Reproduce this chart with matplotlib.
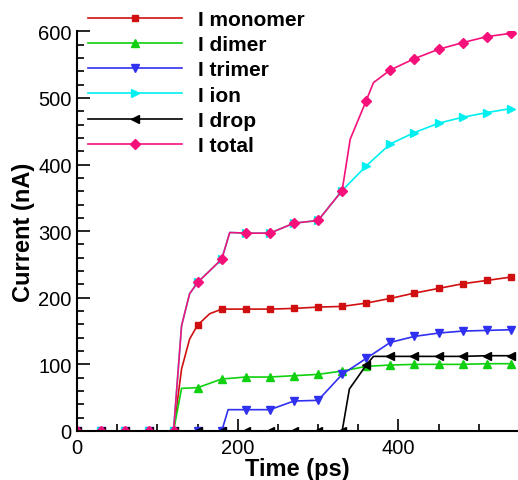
import numpy as np
import matplotlib.pyplot as plt

plt.rcParams['font.family'] = ['Liberation Sans', 'DejaVu Sans']

# marker times (ps)
t = [0, 30, 60, 90, 120, 150, 180, 210, 240, 270, 300, 330, 360, 390, 420, 450, 480, 510, 540]

monomer = [0, 0, 0, 0, 0, 159, 183, 183, 183, 184, 186, 187, 192, 199, 207, 214, 221, 226, 231]
dimer = [0, 0, 0, 0, 0, 65, 78, 81, 81, 83, 85, 90, 97, 99, 100, 100, 100, 101, 101]
trimer = [0, 0, 0, 0, 0, 0, 0, 32, 32, 45, 46, 85, 109, 133, 142, 147, 150, 151, 152]
ion = [0, 0, 0, 0, 0, 223, 258, 297, 297, 312, 316, 361, 398, 431, 448, 462, 471, 478, 484]
drop = [0, 0, 0, 0, 0, 0, 0, 0, 0, 0, 0, 0, 99, 112, 112, 112, 112, 113, 113]
total = [0, 0, 0, 0, 0, 223, 258, 297, 297, 312, 316, 361, 496, 542, 559, 573, 583, 592, 597]

# extra vertices of the lines between markers (time, value)
monomer_k = [(130, 93), (140, 138), (165, 176)]
dimer_k = [(130, 64)]
trimer_k = [(188, 32)]
ion_k = [(130, 158), (140, 206), (190, 298)]
drop_k = [(339, 63), (369, 112)]
total_k = [(130, 158), (140, 206), (190, 298), (340, 438), (369, 523)]

series = [
    ('I monomer', monomer, monomer_k, '#d01010', 's', 5),
    ('I dimer', dimer, dimer_k, '#10d010', '^', 5.5),
    ('I trimer', trimer, trimer_k, '#3030f0', 'v', 5.5),
    ('I ion', ion, ion_k, '#00f0f0', '>', 5.5),
    ('I drop', drop, drop_k, 'black', '<', 5.5),
    ('I total', total, total_k, '#f5107a', 'D', 5.5),
]

fig = plt.figure(figsize=(5.18, 4.81), dpi=100)
ax = fig.add_axes([0.149, 0.1019, 0.851, 0.8309])

for name, vals, knees, col, mk, ms in series:
    pts = sorted(list(zip(t, vals)) + knees)
    xs = [p[0] for p in pts]
    ys = [p[1] for p in pts]
    idx = [i for i, x in enumerate(xs) if x in t]
    ax.plot(xs, ys, color=col, lw=1.2, marker=mk, ms=ms, markevery=idx,
            mec=col, mfc=col, label=name)

ax.set_xlim(0, 549)
ax.set_ylim(0, 600)
ax.set_xticks([0, 200, 400])
ax.set_xticks(np.arange(0, 550, 50), minor=True)
ax.set_yticks(np.arange(0, 601, 100))
ax.set_yticks(np.arange(0, 601, 20), minor=True)
ax.tick_params(which='both', direction='in', labelsize=14.5, width=1.2)
ax.tick_params(which='major', length=9, pad=4)
ax.tick_params(which='minor', length=5)
ax.tick_params(axis='x', pad=5)
for s in ['top', 'right']:
    ax.spines[s].set_visible(False)
for s in ['left', 'bottom']:
    ax.spines[s].set_linewidth(1.5)

ax.set_xlabel('Time (ps)', fontsize=17, fontweight='bold', labelpad=0)
ax.set_ylabel('Current (nA)', fontsize=17, fontweight='bold', labelpad=2)

fig.legend(loc='upper left', bbox_to_anchor=(88 / 518, 1 - 11 / 481), frameon=False,
           prop={'size': 15, 'weight': 'bold'}, handlelength=4.5, handletextpad=0.8,
           labelspacing=0.3, borderpad=0, borderaxespad=0)

plt.savefig('out.png', dpi=100)
